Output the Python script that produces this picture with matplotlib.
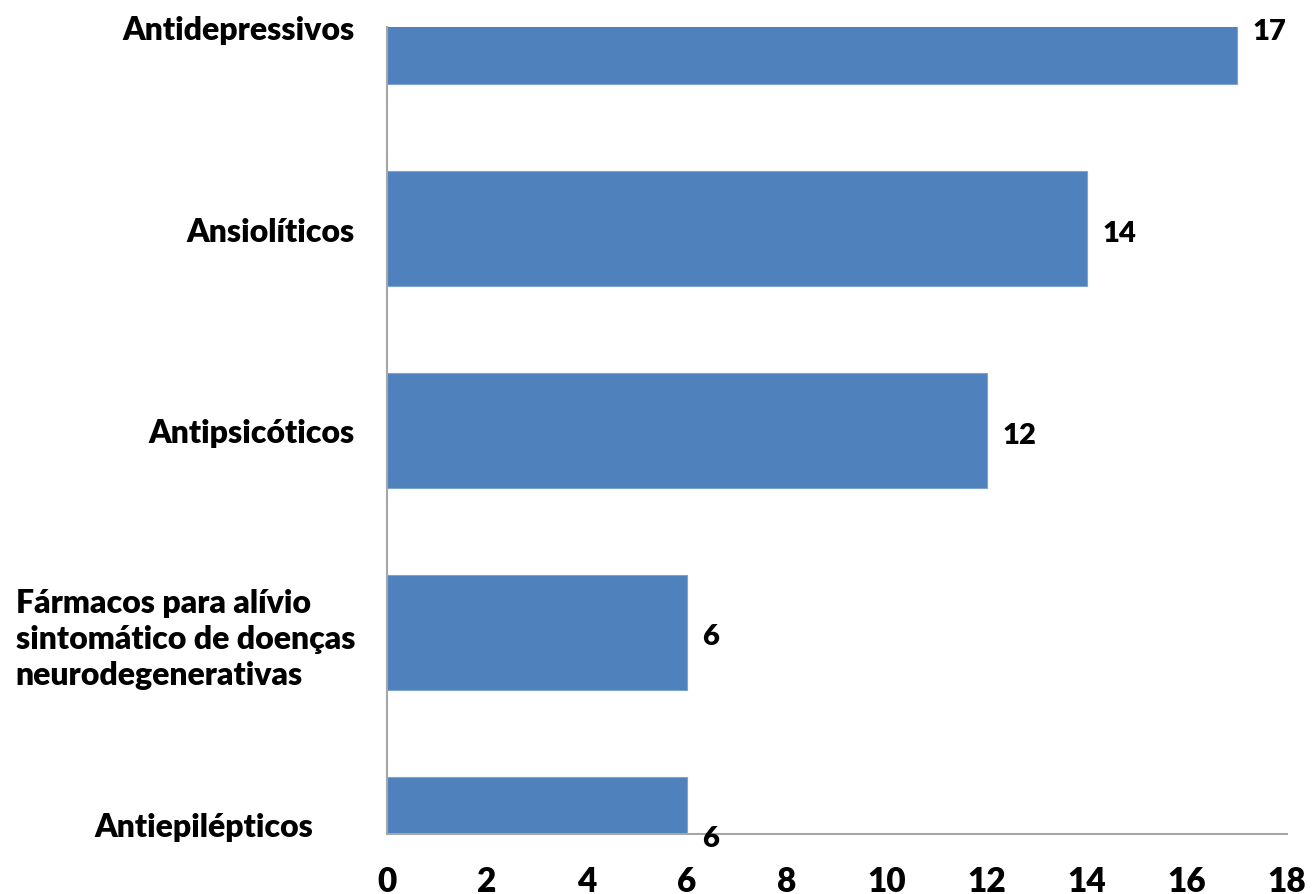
import matplotlib
matplotlib.use("Agg")
import matplotlib.pyplot as plt
import matplotlib.transforms as mtransforms

plt.rcParams['font.family'] = ['Lato', 'DejaVu Sans']
plt.rcParams['font.weight'] = 'heavy'

categorias = [
    "Antiepilépticos",
    "Fármacos para alívio\nsintomático de doenças\nneurodegenerativas",
    "Antipsicóticos",
    "Ansiolíticos",
    "Antidepressivos",
]
valores = [6, 6, 12, 14, 17]
ticks_x = [0, 2, 4, 6, 8, 10, 12, 14, 16, 18]

cor_barra = "#4F81BD"
cor_eixo = "#A6A6A6"

fig = plt.figure(figsize=(13.15, 8.95), dpi=100)
ax = fig.add_axes([387 / 1315, 1 - 835 / 895, 900 / 1315, 807 / 895])

pos = list(range(len(categorias)))
ax.barh(pos, valores, height=0.57, color=cor_barra, edgecolor="#7FA3D0",
        linewidth=0.8)

ax.set_xlim(0, 18)
ax.set_ylim(0, 4)
ax.set_xticks(ticks_x)
ax.set_xticklabels([str(t) for t in ticks_x], fontsize=24, fontweight='heavy')
ax.set_yticks(pos)
ax.set_yticklabels(categorias, fontsize=23, fontweight='heavy',
                   multialignment='left', linespacing=1.3)
ax.tick_params(axis='x', length=0, pad=22)
ax.tick_params(axis='y', length=0, pad=23)

# o rótulo de baixo fica deslocado para cima e para a esquerda
rot = ax.get_yticklabels()[0]
rot.set_transform(rot.get_transform() +
                  mtransforms.ScaledTranslation(-42 / 100, 10 / 100,
                                                fig.dpi_scale_trans))

for s in ["top", "right"]:
    ax.spines[s].set_visible(False)
for s in ["left", "bottom"]:
    ax.spines[s].set_color(cor_eixo)
    ax.spines[s].set_linewidth(1.5)

for p, v in zip(pos, valores):
    ax.annotate(str(v), (v, p), xytext=(11, -3), textcoords="offset points",
                ha="left", va="center", fontsize=21, fontweight='heavy',
                annotation_clip=False)

fig.savefig("out.png", dpi=100)
